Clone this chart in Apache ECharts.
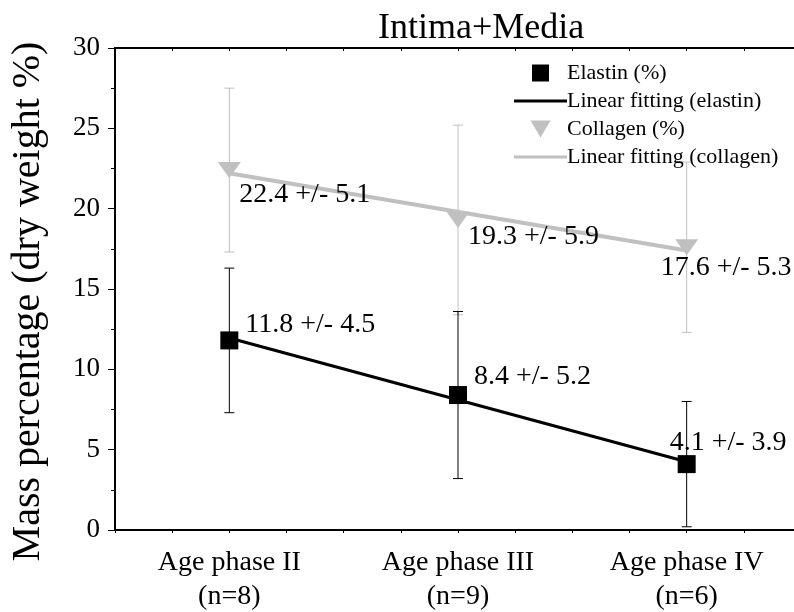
<!DOCTYPE html>
<html>
<head>
<meta charset="utf-8">
<script src="https://cdn.jsdelivr.net/npm/echarts@6/dist/echarts.min.js"></script>
<style>html,body{margin:0;padding:0;background:#fff;}#c{width:794px;height:612px;}</style>
</head>
<body>
<div id="c"></div>
<script>
// ---- data ----
const categories = ['Age phase II\n(n=8)', 'Age phase III\n(n=9)', 'Age phase IV\n(n=6)'];
const xPos = [1, 2, 3];
const elastin = [11.8, 8.4, 4.1];
const elastinErr = [4.5, 5.2, 3.9];
const collagen = [22.4, 19.3, 17.6];
const collagenErr = [5.1, 5.9, 5.3];
const elastinFit = [11.95, 4.25];   // fitted line at x=1 and x=3
const collagenFit = [22.2, 17.4];
const fitX = [1, 3];
const yTicks = [0, 5, 10, 15, 20, 25, 30];

// ---- style ----
const FONT = 'Liberation Serif';
const GRAY = '#c0c0c0';
const elastinLabelOffsets = [[16, -16], [16, -18], [-17, -21]];
const collagenLabelOffsets = [[10, 25], [10, 17], [-26, 20]];

function errData(vals, errs) {
  return vals.map((v, i) => [xPos[i], v - errs[i], v + errs[i]]);
}
function errRender(color) {
  return function (params, api) {
    const x = api.value(0);
    const lo = api.coord([x, api.value(1)]);
    const hi = api.coord([x, api.value(2)]);
    const hw = 5;
    const st = { stroke: color, lineWidth: 1 };
    return {
      type: 'group',
      children: [
        { type: 'line', shape: { x1: lo[0], y1: lo[1], x2: hi[0], y2: hi[1] }, style: st },
        { type: 'line', shape: { x1: lo[0] - hw, y1: lo[1], x2: lo[0] + hw, y2: lo[1] }, style: st },
        { type: 'line', shape: { x1: hi[0] - hw, y1: hi[1], x2: hi[0] + hw, y2: hi[1] }, style: st }
      ]
    };
  };
}
function pointData(vals, offsets) {
  return vals.map((v, i) => ({
    value: [xPos[i], v],
    label: { offset: offsets[i] }
  }));
}
function labelCfg(errs) {
  return {
    show: true,
    position: 'inside',
    align: 'left',
    verticalAlign: 'middle',
    color: '#000',
    fontFamily: FONT,
    fontSize: 28,
    formatter: p => p.value[1].toFixed(1) + ' +/- ' + errs[p.dataIndex].toFixed(1)
  };
}

const chart = echarts.init(document.getElementById('c'), null, { renderer: 'canvas' });
const tri = 'path://M0,0 L20,0 L10,17 Z';
const sq = 'path://M0,0 L10,0 L10,10 L0,10 Z';
const bar = 'path://M0,0 L53,0 L53,3 L0,3 Z';
chart.setOption({
  animation: false,
  backgroundColor: '#fff',
  title: {
    text: 'Intima+Media',
    left: 373, top: 6,
    textStyle: { fontFamily: FONT, fontSize: 36, fontWeight: 'normal', color: '#000' }
  },
  legend: {
    orient: 'vertical',
    left: 509, top: 57,
    itemWidth: 53, itemHeight: 17, itemGap: 6,
    symbolKeepAspect: true,
    textStyle: { fontFamily: FONT, fontSize: 22, color: '#000', padding: [0, 0, 0, -5] },
    data: [
      { name: 'Elastin (%)', icon: sq },
      { name: 'Linear fitting (elastin)', icon: bar },
      { name: 'Collagen (%)', icon: tri },
      { name: 'Linear fitting (collagen)', icon: bar }
    ]
  },
  grid: { left: 115, top: 48, width: 686, height: 482, outerBoundsMode: 'none', containLabel: false },
  xAxis: [{
    type: 'value', min: 0.5, max: 3.5, interval: 0.25,
    axisLine: { lineStyle: { color: '#000', width: 2 } },
    axisTick: { show: true, length: 3, lineStyle: { color: '#000' } },
    splitLine: { show: false },
    axisLabel: {
      fontFamily: FONT, fontSize: 28, color: '#000', lineHeight: 34, margin: 16,
      formatter: v => { const i = xPos.indexOf(v); return i >= 0 ? categories[i] : ''; }
    }
  }, {
    type: 'value', min: 0.5, max: 3.5, interval: 0.25, position: 'top',
    axisLine: { show: true, lineStyle: { color: '#000', width: 2 } },
    axisTick: { show: true, inside: true, length: 3, lineStyle: { color: '#000' } },
    axisLabel: { show: false }, splitLine: { show: false }
  }],
  yAxis: {
    type: 'value', min: yTicks[0], max: yTicks[yTicks.length - 1], interval: 5,
    name: 'Mass percentage (dry weight %)',
    nameLocation: 'middle', nameGap: 67,
    nameTextStyle: { fontFamily: FONT, fontSize: 40, color: '#000', padding: [0, 25, 0, 0] },
    axisLine: { show: true, lineStyle: { color: '#000', width: 2 } },
    axisTick: { show: true, length: 7, lineStyle: { color: '#000' } },
    minorTick: { show: true, splitNumber: 2, length: 4, lineStyle: { color: '#000' } },
    splitLine: { show: false },
    axisLabel: { fontFamily: FONT, fontSize: 27, color: '#000', margin: 15 }
  },
  series: [
    {
      type: 'custom', name: 'collagenErr', renderItem: errRender(GRAY),
      data: errData(collagen, collagenErr), z: 1, silent: true,
      encode: { x: 0, y: [1, 2] }
    },
    {
      type: 'custom', name: 'elastinErr', renderItem: errRender('#000'),
      data: errData(elastin, elastinErr), z: 2, silent: true,
      encode: { x: 0, y: [1, 2] }
    },
    {
      type: 'line', name: 'Linear fitting (collagen)',
      data: fitX.map((x, i) => [x, collagenFit[i]]),
      symbol: 'none', lineStyle: { color: GRAY, width: 4 }, itemStyle: { color: GRAY }, z: 3
    },
    {
      type: 'line', name: 'Linear fitting (elastin)',
      data: fitX.map((x, i) => [x, elastinFit[i]]),
      symbol: 'none', lineStyle: { color: '#000', width: 3 }, itemStyle: { color: '#000' }, z: 4
    },
    {
      type: 'scatter', name: 'Collagen (%)',
      data: pointData(collagen, collagenLabelOffsets),
      symbol: tri, symbolSize: [23, 19], symbolKeepAspect: true,
      itemStyle: { color: GRAY, opacity: 1 }, z: 5,
      label: labelCfg(collagenErr)
    },
    {
      type: 'scatter', name: 'Elastin (%)',
      data: pointData(elastin, elastinLabelOffsets),
      symbol: 'rect', symbolSize: 18,
      itemStyle: { color: '#000', opacity: 1 }, z: 6,
      label: labelCfg(elastinErr)
    }
  ]
});
</script>
</body>
</html>
